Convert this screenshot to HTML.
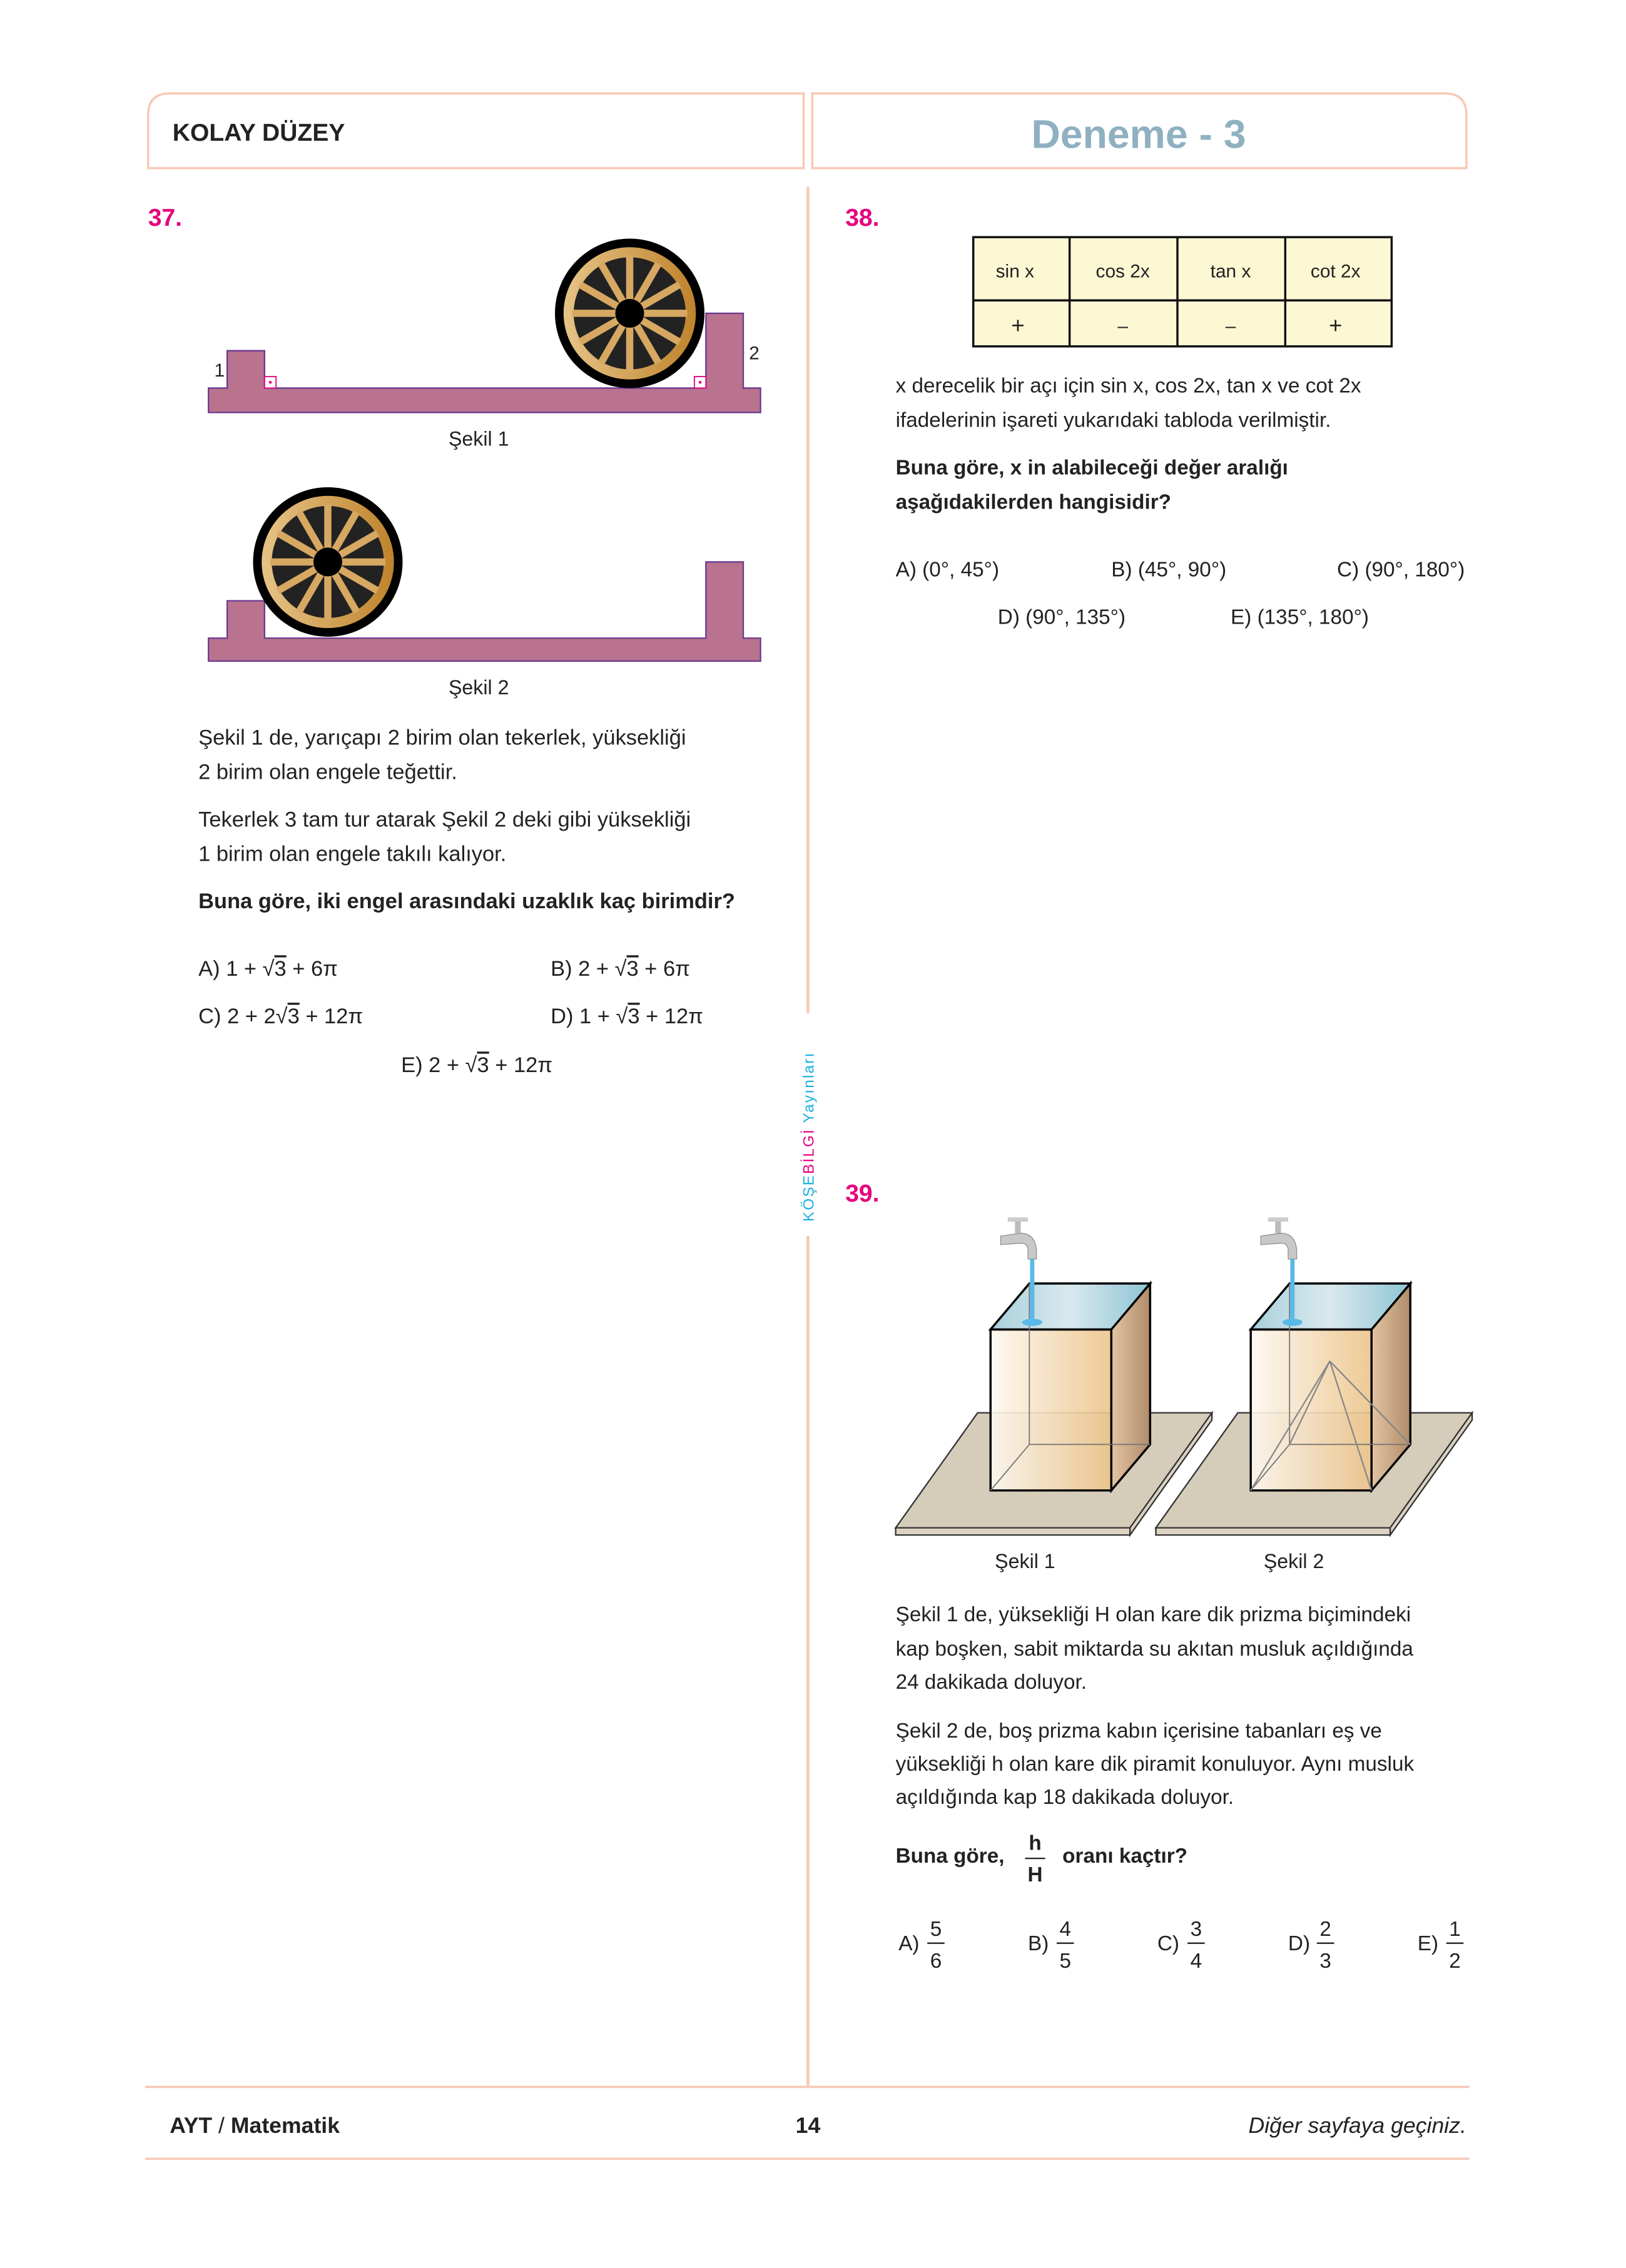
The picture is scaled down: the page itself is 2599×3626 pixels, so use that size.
<!DOCTYPE html>
<html><head><meta charset="utf-8"><style>
html,body{margin:0;padding:0;background:#fff;}
svg{display:block;}
text{font-family:"Liberation Sans",sans-serif;fill:#222;}
</style></head><body>
<svg width="2599" height="3626" viewBox="0 0 1131 1578" xmlns="http://www.w3.org/2000/svg">
<defs>
<linearGradient id="gold" x1="0" x2="1" y1="0" y2="0"><stop offset="0" stop-color="#e6c487"/><stop offset="1" stop-color="#bf832c"/></linearGradient>
<linearGradient id="box" x1="0" x2="1"><stop offset="0" stop-color="#fdf8f0"/><stop offset="1" stop-color="#ecc48a"/></linearGradient>
<linearGradient id="side" x1="0" x2="1"><stop offset="0" stop-color="#e3c4a2"/><stop offset="1" stop-color="#b08c6a"/></linearGradient>
<linearGradient id="water" x1="0" x2="1"><stop offset="0" stop-color="#a9d0dc"/><stop offset="0.5" stop-color="#d9e9ee"/><stop offset="1" stop-color="#8ec4d6"/></linearGradient>
<g id="wheel">
<circle r="52" fill="#000"/>
<circle r="46" fill="url(#gold)"/>
<circle r="39" fill="#222"/>
<g stroke="#d6a862" stroke-width="5">
<line x1="0" y1="-40" x2="0" y2="40"/><line x1="-40" y1="0" x2="40" y2="0"/>
<line x1="20" y1="-34.6" x2="-20" y2="34.6"/><line x1="-20" y1="-34.6" x2="20" y2="34.6"/>
<line x1="34.6" y1="-20" x2="-34.6" y2="20"/><line x1="-34.6" y1="-20" x2="34.6" y2="20"/>
</g>
<circle r="10" fill="#000"/>
</g>
<g id="faucet">
<rect x="-2" y="-22" width="4" height="10" fill="#bbb"/>
<rect x="-7" y="-23" width="14" height="3" fill="#ccc"/>
<path d="M-12,-10 L2,-12 Q12,-12 13,0 L13,6 L7,6 L7,0 Q7,-5 2,-5 L-12,-4 Z" fill="#c8c8c8" stroke="#888" stroke-width="0.5"/>
<rect x="8.5" y="6" width="3" height="44" fill="#5ab9e6"/>
<ellipse cx="10" cy="50" rx="7" ry="2.5" fill="#5ab9e6"/>
</g>
</defs>

<!-- header -->
<path d="M103,117 V80 Q103,65 118,65 H559 V117 Z" fill="none" stroke="#f7c8b4" stroke-width="1.5"/>
<path d="M565,117 V65 H1005 Q1020,65 1020,80 V117 Z" fill="none" stroke="#f7c8b4" stroke-width="1.5"/>
<text x="120" y="98" font-size="17" font-weight="bold">KOLAY DÜZEY</text>
<text x="792" y="103" font-size="28" font-weight="bold" text-anchor="middle" style="fill:#8fb0c0">Deneme - 3</text>

<!-- divider -->
<line x1="562" y1="130" x2="562" y2="1452" stroke="#f7c8b4" stroke-width="2"/>
<rect x="555" y="705" width="14" height="155" fill="#fff"/>
<text transform="translate(566,850) rotate(-90)" font-size="10.5" letter-spacing="1"><tspan style="fill:#1ab0e0">KÖŞE</tspan><tspan style="fill:#e6007e">BİLGİ</tspan><tspan style="fill:#1ab0e0"> Yayınları</tspan></text>

<!-- Q37 -->
<text x="103" y="157" font-size="17" font-weight="bold" style="fill:#e6007e">37.</text>
<g>
<path d="M145,270 H158 V244 H184 V270 H491 V218 H517 V270 H529 V287 H145 Z" fill="#b9738f" stroke="#6b3a8f" stroke-width="1"/>
<rect x="184" y="262" width="8" height="8" fill="#fff" stroke="#e6007e" stroke-width="0.8"/><circle cx="188" cy="266" r="1" fill="#e6007e"/>
<rect x="483" y="262" width="8" height="8" fill="#fff" stroke="#e6007e" stroke-width="0.8"/><circle cx="487" cy="266" r="1" fill="#e6007e"/>
<use href="#wheel" x="438" y="218"/>
<text x="149" y="262" font-size="13">1</text><text x="521" y="250" font-size="13">2</text>
</g>
<text x="333" y="310" font-size="14" text-anchor="middle">Şekil 1</text>
<g>
<path d="M145,444 H158 V418 H184 V444 H491 V391 H517 V444 H529 V460 H145 Z" fill="#b9738f" stroke="#6b3a8f" stroke-width="1"/>
<use href="#wheel" x="228" y="391"/>
</g>
<text x="333" y="483" font-size="14" text-anchor="middle">Şekil 2</text>
<g font-size="15">
<text x="138" y="518">Şekil 1 de, yarıçapı 2 birim olan tekerlek, yüksekliği</text>
<text x="138" y="542">2 birim olan engele teğettir.</text>
<text x="138" y="575">Tekerlek 3 tam tur atarak Şekil 2 deki gibi yüksekliği</text>
<text x="138" y="599">1 birim olan engele takılı kalıyor.</text>
<text x="138" y="632" font-weight="bold">Buna göre, iki engel arasındaki uzaklık kaç birimdir?</text>
</g>
<g font-size="15">
<text x="138" y="679">A)  1 + √<tspan text-decoration="overline">3</tspan> + 6π</text>
<text x="383" y="679">B)  2 + √<tspan text-decoration="overline">3</tspan> + 6π</text>
<text x="138" y="712">C)  2 + 2√<tspan text-decoration="overline">3</tspan> + 12π</text>
<text x="383" y="712">D)  1 + √<tspan text-decoration="overline">3</tspan> + 12π</text>
<text x="279" y="746">E)  2 + √<tspan text-decoration="overline">3</tspan> + 12π</text>
</g>

<!-- Q38 -->
<text x="588" y="157" font-size="17" font-weight="bold" style="fill:#e6007e">38.</text>
<g>
<rect x="677" y="165" width="291" height="76" fill="#fdf8d4" stroke="#111" stroke-width="1.5"/>
<line x1="677" y1="209" x2="968" y2="209" stroke="#111" stroke-width="1.5"/>
<line x1="744" y1="165" x2="744" y2="241" stroke="#111" stroke-width="1.5"/>
<line x1="819" y1="165" x2="819" y2="241" stroke="#111" stroke-width="1.5"/>
<line x1="894" y1="165" x2="894" y2="241" stroke="#111" stroke-width="1.5"/>
<g font-size="13" text-anchor="middle">
<text x="706" y="193">sin x</text><text x="781" y="193">cos 2x</text><text x="856" y="193">tan x</text><text x="929" y="193">cot 2x</text>
<text x="708" y="232" font-size="16">+</text><text x="781" y="231">–</text><text x="856" y="231">–</text><text x="929" y="232" font-size="16">+</text>
</g>
</g>
<g font-size="14.5">
<text x="623" y="273">x derecelik bir açı için sin x,  cos 2x,  tan x  ve  cot 2x</text>
<text x="623" y="297">ifadelerinin işareti yukarıdaki tabloda verilmiştir.</text>
<text x="623" y="330" font-weight="bold">Buna göre, x in alabileceği değer aralığı</text>
<text x="623" y="354" font-weight="bold">aşağıdakilerden hangisidir?</text>
</g>
<g font-size="14.5">
<text x="623" y="401">A) (0°, 45°)</text>
<text x="773" y="401">B) (45°, 90°)</text>
<text x="930" y="401">C) (90°, 180°)</text>
<text x="694" y="434">D) (90°, 135°)</text>
<text x="856" y="434">E) (135°, 180°)</text>
</g>

<!-- Q39 -->
<text x="588" y="836" font-size="17" font-weight="bold" style="fill:#e6007e">39.</text>
<g>
<path d="M623,1063 L680,983 H843 L786,1063 Z" fill="#d6ccba" stroke="#333"/>
<path d="M623,1063 H786 V1068 H623 Z" fill="#ddd3c2" stroke="#333"/>
<path d="M786,1063 L843,983 V988 L786,1068 Z" fill="#ddd3c2" stroke="#333"/>
<path d="M773,925 L800,893 V1005 L773,1037 Z" fill="url(#side)" stroke="#000" stroke-width="1.5"/>
<rect x="689" y="925" width="84" height="112" fill="url(#box)" fill-opacity="0.9" stroke="#000" stroke-width="1.5"/>
<path d="M689,925 L716,893 H800 L773,925 Z" fill="url(#water)" stroke="#000" stroke-width="1.5"/>
<path d="M716,893 V1005 H800 M716,1005 L689,1037" fill="none" stroke="#777" stroke-width="0.8"/>
<use href="#faucet" x="708" y="870"/>
</g>
<g>
<path d="M804,1063 L861,983 H1024 L967,1063 Z" fill="#d6ccba" stroke="#333"/>
<path d="M804,1063 H967 V1068 H804 Z" fill="#ddd3c2" stroke="#333"/>
<path d="M967,1063 L1024,983 V988 L967,1068 Z" fill="#ddd3c2" stroke="#333"/>
<path d="M954,925 L981,893 V1005 L954,1037 Z" fill="url(#side)" stroke="#000" stroke-width="1.5"/>
<rect x="870" y="925" width="84" height="112" fill="url(#box)" fill-opacity="0.9" stroke="#000" stroke-width="1.5"/>
<path d="M870,925 L897,893 H981 L954,925 Z" fill="url(#water)" stroke="#000" stroke-width="1.5"/>
<path d="M897,893 V1005 H981 M897,1005 L870,1037" fill="none" stroke="#777" stroke-width="0.8"/>
<path d="M925,947 L870,1037 M925,947 L954,1037 M925,947 L981,1005 M925,947 L897,1005" fill="none" stroke="#888" stroke-width="1"/>
<use href="#faucet" x="889" y="870"/>
</g>
<text x="713" y="1091" font-size="14" text-anchor="middle">Şekil 1</text>
<text x="900" y="1091" font-size="14" text-anchor="middle">Şekil 2</text>
<g font-size="14.5">
<text x="623" y="1128">Şekil 1 de, yüksekliği H olan kare dik prizma biçimindeki</text>
<text x="623" y="1152">kap boşken, sabit miktarda su akıtan musluk açıldığında</text>
<text x="623" y="1175">24 dakikada doluyor.</text>
<text x="623" y="1209">Şekil 2 de, boş prizma kabın içerisine tabanları eş ve</text>
<text x="623" y="1232">yüksekliği h olan kare dik piramit konuluyor. Aynı musluk</text>
<text x="623" y="1255">açıldığında kap 18 dakikada doluyor.</text>
<text x="623" y="1296" font-weight="bold">Buna göre,</text>
<text x="720" y="1287" font-weight="bold" text-anchor="middle">h</text>
<line x1="713" y1="1293" x2="727" y2="1293" stroke="#222"/>
<text x="720" y="1309" font-weight="bold" text-anchor="middle">H</text>
<text x="739" y="1296" font-weight="bold">oranı kaçtır?</text>
</g>
<g font-size="14.5">
<text x="625" y="1357">A)</text><text x="651" y="1347" text-anchor="middle">5</text><line x1="645" y1="1352" x2="657" y2="1352" stroke="#222"/><text x="651" y="1369" text-anchor="middle">6</text>
<text x="715" y="1357">B)</text><text x="741" y="1347" text-anchor="middle">4</text><line x1="735" y1="1352" x2="747" y2="1352" stroke="#222"/><text x="741" y="1369" text-anchor="middle">5</text>
<text x="805" y="1357">C)</text><text x="832" y="1347" text-anchor="middle">3</text><line x1="826" y1="1352" x2="838" y2="1352" stroke="#222"/><text x="832" y="1369" text-anchor="middle">4</text>
<text x="896" y="1357">D)</text><text x="922" y="1347" text-anchor="middle">2</text><line x1="916" y1="1352" x2="928" y2="1352" stroke="#222"/><text x="922" y="1369" text-anchor="middle">3</text>
<text x="986" y="1357">E)</text><text x="1012" y="1347" text-anchor="middle">1</text><line x1="1006" y1="1352" x2="1018" y2="1352" stroke="#222"/><text x="1012" y="1369" text-anchor="middle">2</text>
</g>

<!-- footer -->
<line x1="101" y1="1452" x2="1022" y2="1452" stroke="#f7c8b4" stroke-width="1.5"/>
<line x1="101" y1="1502" x2="1022" y2="1502" stroke="#f7c8b4" stroke-width="1.5"/>
<text x="118" y="1484" font-size="15.5" font-weight="bold">AYT <tspan font-weight="normal">/</tspan> Matematik</text>
<text x="562" y="1484" font-size="15.5" font-weight="bold" text-anchor="middle">14</text>
<text x="1020" y="1484" font-size="15.5" font-style="italic" text-anchor="end">Diğer sayfaya geçiniz.</text>
</svg>
</body></html>
